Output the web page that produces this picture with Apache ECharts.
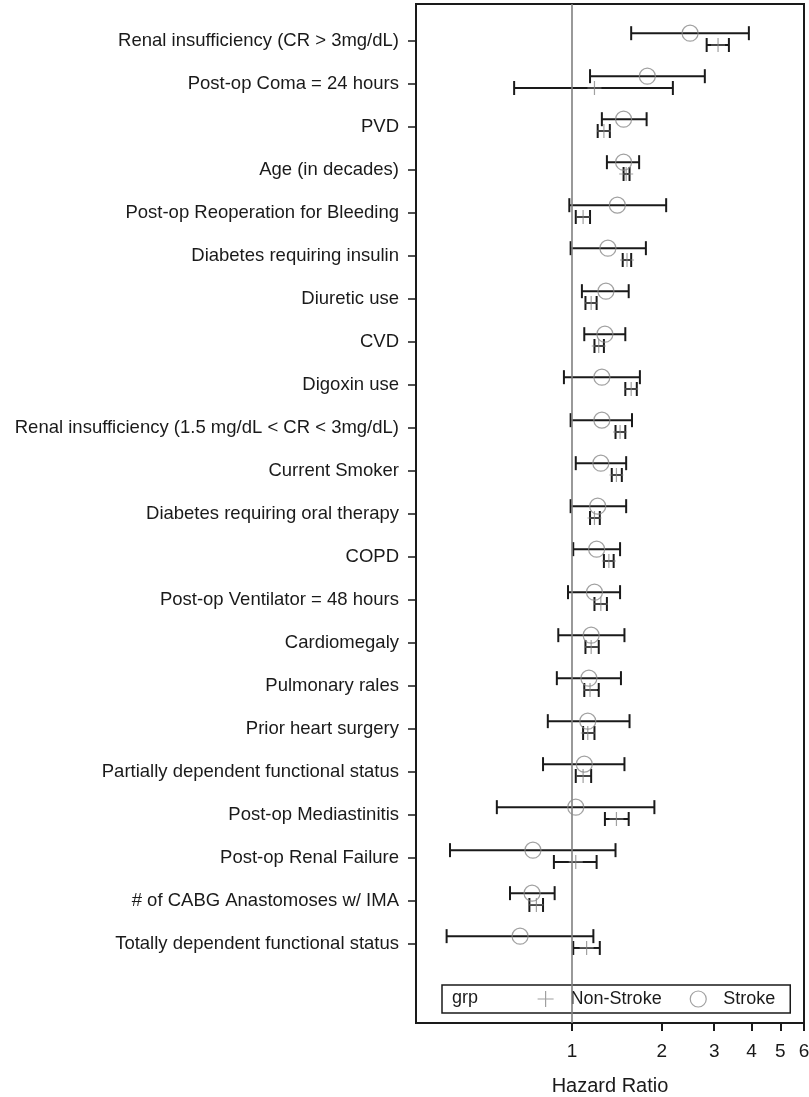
<!DOCTYPE html>
<html>
<head>
<meta charset="utf-8">
<script src="https://cdn.jsdelivr.net/npm/echarts@6/dist/echarts.min.js"></script>
<style>
html,body{margin:0;padding:0;background:#fff;}
#chart{width:809px;height:1097px;}
</style>
</head>
<body>
<div id="chart"></div>
<script>
// ---- data ----
var categories = [
  "Renal insufficiency (CR > 3mg/dL)",
  "Post-op Coma = 24 hours",
  "PVD",
  "Age (in decades)",
  "Post-op Reoperation for Bleeding",
  "Diabetes requiring insulin",
  "Diuretic use",
  "CVD",
  "Digoxin use",
  "Renal insufficiency (1.5 mg/dL < CR < 3mg/dL)",
  "Current Smoker",
  "Diabetes requiring oral therapy",
  "COPD",
  "Post-op Ventilator = 48 hours",
  "Cardiomegaly",
  "Pulmonary rales",
  "Prior heart surgery",
  "Partially dependent functional status",
  "Post-op Mediastinitis",
  "Post-op Renal Failure",
  "# of CABG Anastomoses w/ IMA",
  "Totally dependent functional status"
];
var strokeHR = [2.49, 1.79, 1.49, 1.49, 1.42, 1.32, 1.30, 1.29, 1.26, 1.26, 1.25, 1.22, 1.21, 1.19, 1.16, 1.14, 1.13, 1.10, 1.03, 0.74, 0.735, 0.67];
var strokeLo = [1.58, 1.15, 1.26, 1.31, 0.98, 0.99, 1.08, 1.10, 0.94, 0.99, 1.03, 0.99, 1.01, 0.97, 0.90, 0.89, 0.83, 0.80, 0.56, 0.39, 0.62, 0.38];
var strokeHi = [3.92, 2.79, 1.78, 1.68, 2.07, 1.77, 1.55, 1.51, 1.69, 1.59, 1.52, 1.52, 1.45, 1.45, 1.50, 1.46, 1.56, 1.50, 1.89, 1.40, 0.875, 1.18];
var nonHR = [3.09, 1.19, 1.28, 1.52, 1.09, 1.53, 1.16, 1.23, 1.58, 1.45, 1.41, 1.19, 1.33, 1.25, 1.16, 1.15, 1.13, 1.09, 1.41, 1.03, 0.76, 1.12];
var nonLo = [2.83, 0.64, 1.22, 1.49, 1.03, 1.48, 1.11, 1.19, 1.51, 1.40, 1.36, 1.15, 1.28, 1.19, 1.11, 1.10, 1.09, 1.03, 1.29, 0.87, 0.72, 1.01];
var nonHi = [3.36, 2.18, 1.34, 1.56, 1.15, 1.58, 1.21, 1.28, 1.65, 1.51, 1.47, 1.24, 1.38, 1.31, 1.23, 1.23, 1.19, 1.16, 1.55, 1.21, 0.80, 1.24];
var xTicks = [1, 2, 3, 4, 5, 6];
var seriesNames = ["Non-Stroke", "Stroke"];

// ---- build ----
var FONT = '"Liberation Sans", Arial, Helvetica, sans-serif';
var STROKE_OFF = -0.17, NON_OFF = 0.105;
var rowIdx = categories.map(function (c, i) { return i; });

var strokeBars = rowIdx.map(function (i) { return [strokeLo[i], strokeHi[i], i + STROKE_OFF]; });
var nonBars = rowIdx.map(function (i) { return [nonLo[i], nonHi[i], i + NON_OFF]; });
var strokePts = rowIdx.map(function (i) { return [strokeHR[i], i + STROKE_OFF]; });
var nonPts = rowIdx.map(function (i) { return [nonHR[i], i + NON_OFF]; });

var PLUS = 'path://M5,0L5,10M0,5L10,5';

function renderBar(params, api) {
  var y = api.value(2);
  var a = api.coord([api.value(0), y]);
  var b = api.coord([api.value(1), y]);
  var h = 7;
  var st = { stroke: '#1a1a1a', lineWidth: 2, fill: null };
  return {
    type: 'group',
    children: [
      { type: 'line', shape: { x1: a[0], y1: a[1], x2: b[0], y2: b[1] }, style: st },
      { type: 'line', shape: { x1: a[0], y1: a[1] - h, x2: a[0], y2: a[1] + h }, style: st },
      { type: 'line', shape: { x1: b[0], y1: b[1] - h, x2: b[0], y2: b[1] + h }, style: st }
    ]
  };
}

var chart = echarts.init(document.getElementById('chart'), null, { renderer: 'canvas' });
chart.setOption({
  animation: false,
  backgroundColor: '#fff',
  textStyle: { fontFamily: FONT },
  grid: {
    left: 416, right: 5, top: 4, bottom: 74,
    outerBoundsMode: 'none',
    containLabel: false,
    show: true, borderColor: '#1a1a1a', borderWidth: 2, backgroundColor: 'transparent'
  },
  xAxis: {
    type: 'log',
    logBase: 10,
    min: 0.3,
    max: 6,
    name: 'Hazard Ratio',
    nameLocation: 'middle',
    nameGap: 53,
    nameTextStyle: { fontSize: 20, color: '#1a1a1a', fontFamily: FONT },
    axisLine: { show: true, onZero: false, lineStyle: { color: '#1a1a1a', width: 2 } },
    axisTick: { show: true, customValues: xTicks, length: 8, lineStyle: { color: '#1a1a1a', width: 2 } },
    axisLabel: { customValues: xTicks, fontSize: 19, color: '#1a1a1a', margin: 19, fontFamily: FONT,
      formatter: function (v) { return String(Math.round(v)); } },
    splitLine: { show: false },
    minorTick: { show: false }
  },
  yAxis: {
    type: 'value',
    inverse: true,
    min: -0.849,
    max: 22.85,
    axisLine: { show: true, onZero: false, lineStyle: { color: '#1a1a1a', width: 2 } },
    axisTick: { show: true, customValues: rowIdx, length: 8, lineStyle: { color: '#1a1a1a', width: 1.5 } },
    axisLabel: { customValues: rowIdx, fontSize: 18.5, color: '#1a1a1a', margin: 17, fontFamily: FONT,
      formatter: function (v) { return categories[Math.round(v)] || ''; } },
    splitLine: { show: false }
  },
  legend: {
    left: 442, top: 985,
    orient: 'horizontal',
    padding: [5, 15, 5, 95],
    borderColor: '#1a1a1a', borderWidth: 1.5,
    itemWidth: 16, itemHeight: 16, itemGap: 28,
    textStyle: { fontSize: 18, color: '#1a1a1a', fontFamily: FONT, padding: [0, 0, 0, 12] },
    selectedMode: false,
    data: [
      { name: seriesNames[0], icon: PLUS, itemStyle: { color: 'rgba(0,0,0,0)', borderColor: '#888', borderWidth: 1.2 } },
      { name: seriesNames[1], icon: 'circle', itemStyle: { color: 'rgba(0,0,0,0)', borderColor: '#888', borderWidth: 1.2 } }
    ]
  },
  graphic: [
    { type: 'text', left: 452, top: 989, z: 100,
      style: { text: 'grp', fontSize: 18, fill: '#1a1a1a', fontFamily: FONT } }
  ],
  series: [
    {
      type: 'custom', name: 'Stroke CI', renderItem: renderBar, data: strokeBars,
      encode: { x: [0, 1], y: 2 }, silent: true, z: 3,
      markLine: {
        silent: true, symbol: ['none', 'none'], label: { show: false },
        lineStyle: { color: '#808080', width: 1.6, type: 'solid' },
        data: [{ xAxis: 1 }]
      }
    },
    {
      type: 'custom', name: 'Non-Stroke CI', renderItem: renderBar, data: nonBars,
      encode: { x: [0, 1], y: 2 }, silent: true, z: 3
    },
    {
      type: 'scatter', name: seriesNames[1], data: strokePts, symbol: 'circle', symbolSize: 16, z: 5,
      itemStyle: { color: 'rgba(0,0,0,0)', borderColor: '#8a8a8a', borderWidth: 1.2 },
      emphasis: { disabled: true }
    },
    {
      type: 'scatter', name: seriesNames[0], data: nonPts, symbol: PLUS, symbolSize: 14, z: 5,
      itemStyle: { color: 'rgba(0,0,0,0)', borderColor: '#8a8a8a', borderWidth: 1.2 },
      emphasis: { disabled: true }
    }
  ]
});
</script>
</body>
</html>
